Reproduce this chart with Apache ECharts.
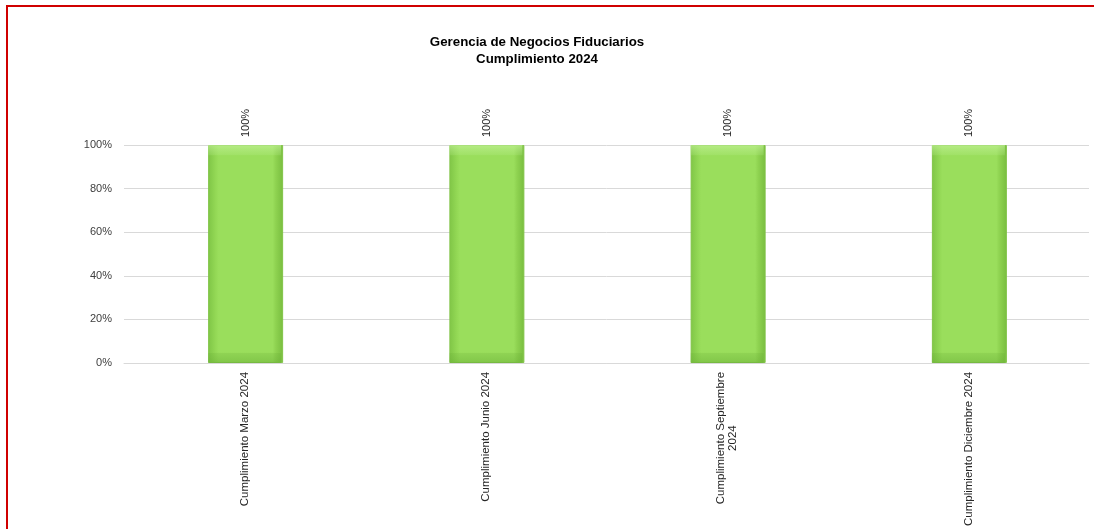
<!DOCTYPE html>
<html>
<head>
<meta charset="utf-8">
<script src="https://cdn.jsdelivr.net/npm/echarts@6/dist/echarts.min.js"></script>
<style>
html,body{margin:0;padding:0;background:#fff;}
#chart{width:1094px;height:529px;}
</style>
</head>
<body>
<div id="chart"></div>
<script>
const titleLines = ['Gerencia de Negocios Fiduciarios', 'Cumplimiento 2024'];
const categories = ['Cumplimiento Marzo 2024', 'Cumplimiento Junio 2024', 'Cumplimiento Septiembre\n2024', 'Cumplimiento Diciembre 2024'];
const values = [100, 100, 100, 100];
const yTicks = [0, 20, 40, 60, 80, 100];

const chart = echarts.init(document.getElementById('chart'), null, {renderer: 'canvas'});
const font = 'Liberation Sans, Arial, sans-serif';

chart.setOption({
  animation: false,
  backgroundColor: '#fff',
  graphic: [
    {type: 'line', shape: {x1: 6, y1: 6, x2: 1094, y2: 6}, style: {stroke: '#d00000', lineWidth: 2}, z: 100},
    {type: 'line', shape: {x1: 7, y1: 5, x2: 7, y2: 529}, style: {stroke: '#d00000', lineWidth: 2}, z: 100}
  ],
  title: {
    text: titleLines.join('\n'),
    left: 532,
    top: 29,
    textAlign: 'center',
    textStyle: {fontFamily: font, fontSize: 13.3, fontWeight: 'bold', color: '#000', lineHeight: 17}
  },
  grid: {left: 124, right: 5, top: 145, bottom: 166, containLabel: false},
  xAxis: {
    type: 'category',
    data: categories,
    axisLine: {show: true, lineStyle: {color: '#d9d9d9', width: 1}},
    axisTick: {show: false},
    axisLabel: {
      rotate: 90,
      interval: 0,
      margin: 9,
      fontFamily: font,
      fontSize: 11.5,
      color: '#262626',
      formatter: function (v) {
        const parts = v.split('\n');
        return parts.map(function (p, i) { return i === 0 ? '{a|' + p + '}' : '{c|' + p + '}'; }).join('\n');
      },
      rich: {
        a: {fontFamily: font, fontSize: 11.5, color: '#262626', lineHeight: 12},
        c: {fontFamily: font, fontSize: 11.5, color: '#262626', lineHeight: 12, align: 'center'}
      }
    }
  },
  yAxis: {
    type: 'value',
    min: yTicks[0],
    max: yTicks[yTicks.length - 1],
    interval: yTicks[1] - yTicks[0],
    axisLine: {show: false},
    axisTick: {show: false},
    splitLine: {lineStyle: {color: '#d9d9d9', width: 1}},
    axisLabel: {
      margin: 12,
      fontFamily: font,
      fontSize: 11,
      color: '#404040',
      formatter: function (v) { return v + '%'; }
    }
  },
  series: [{
    type: 'bar',
    data: values,
    barWidth: 75,
    barGap: '-100%',
    itemStyle: {
      color: new echarts.graphic.LinearGradient(0, 0, 1, 0, [
        {offset: 0, color: '#7fc546'},
        {offset: 0.1, color: '#93d855'},
        {offset: 0.14, color: '#9ade5c'},
        {offset: 0.86, color: '#9ade5c'},
        {offset: 0.9, color: '#8fd351'},
        {offset: 1, color: '#78bd3f'}
      ]),
      borderColor: '#82c449',
      borderWidth: 1
    },
    label: {
      show: true,
      position: 'top',
      rotate: 90,
      align: 'left',
      verticalAlign: 'middle',
      distance: 8,
      fontFamily: font,
      fontSize: 11,
      color: '#262626',
      formatter: function (p) { return p.value + '%'; }
    }
  }, {
    type: 'bar',
    data: values,
    barWidth: 73,
    barGap: '-100%',
    silent: true,
    z: 3,
    itemStyle: {
      color: new echarts.graphic.LinearGradient(0, 0, 0, 1, [
        {offset: 0, color: 'rgba(200,245,160,0.6)'},
        {offset: 0.045, color: 'rgba(190,240,150,0.2)'},
        {offset: 0.05, color: 'rgba(154,222,92,0)'},
        {offset: 0.95, color: 'rgba(154,222,92,0)'},
        {offset: 0.955, color: 'rgba(100,170,50,0.2)'},
        {offset: 1, color: 'rgba(100,170,50,0.45)'}
      ])
    },
    label: {show: false}
  }]
});
</script>
</body>
</html>
